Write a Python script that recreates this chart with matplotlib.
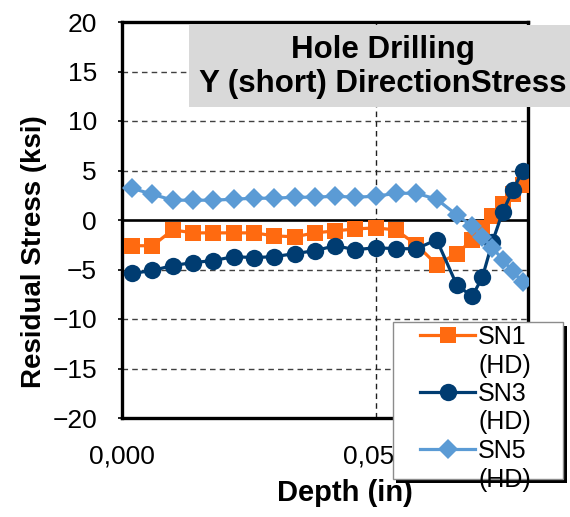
import matplotlib
matplotlib.use("Agg")
import matplotlib.pyplot as plt
from matplotlib.lines import Line2D
from matplotlib.patches import Rectangle

plt.rcParams['font.family'] = ['Liberation Sans', 'DejaVu Sans']

# Depth of each measurement increment (in)
depth = [0.002, 0.006, 0.010, 0.014, 0.018, 0.022, 0.026, 0.030, 0.034, 0.038,
         0.042, 0.046, 0.050, 0.054, 0.058, 0.062, 0.066, 0.069, 0.071, 0.073,
         0.075, 0.077, 0.079]

# Residual stress in the Y (short) direction (ksi)
sn1 = [-2.6, -2.6, -1.0, -1.3, -1.3, -1.3, -1.3, -1.6, -1.7, -1.3,
       -1.1, -0.9, -0.8, -1.0, -2.5, -4.5, -3.4, -2.0, -0.8, 0.4,
       1.6, 2.6, 3.5]
sn3 = [-5.4, -5.1, -4.6, -4.3, -4.1, -3.7, -3.8, -3.7, -3.4, -3.1,
       -2.6, -3.0, -2.8, -2.9, -2.9, -2.0, -6.6, -7.7, -5.8, -2.2,
       0.8, 3.0, 5.0]
sn5 = [3.2, 2.6, 2.0, 2.0, 2.0, 2.1, 2.2, 2.2, 2.3, 2.3,
       2.4, 2.3, 2.4, 2.7, 2.7, 2.1, 0.5, -0.6, -1.7, -2.8,
       -4.0, -5.2, -6.3]

series_names = ["SN1", "SN3", "SN5"]
series_note = "(HD)"
colors = ["#FF6A10", "#003C71", "#5B9BD5"]
markers = ["s", "o", "D"]
msizes = [12, 12.5, 10]

y_ticks = [-20, -15, -10, -5, 0, 5, 10, 15, 20]
x_ticks = [0.0, 0.05]
x_ticklabels = ["0,000", "0,050"]

W, H = 570, 517
fig = plt.figure(figsize=(W / 100, H / 100), dpi=100)
ax = fig.add_axes([122 / W, 99 / H, 406 / W, 396 / H])

for vals, c, m, ms in zip([sn1, sn3, sn5], colors, markers, msizes):
    ax.plot(depth, vals, color=c, marker=m, markersize=ms, linewidth=2.3,
            markeredgewidth=0, zorder=3)

ax.set_xlim(0, 0.08)
ax.set_ylim(-20, 20)
ax.set_yticks(y_ticks)
ax.set_xticks(x_ticks)
ax.set_xticklabels(x_ticklabels)

for v in y_ticks[1:-1]:
    if v != 0:
        ax.axhline(v, color="#404040", linewidth=1.0, linestyle=(0, (4, 3)), zorder=1)
ax.axvline(0.05, color="#202020", linewidth=1.0, linestyle=(0, (4, 3)), zorder=1)
ax.axhline(0, color="black", linewidth=1.9, zorder=2)

for s in ax.spines.values():
    s.set_linewidth(2.4)
    s.set_color("black")

ax.tick_params(axis="y", labelsize=19, length=3, width=1.2, pad=15)
ax.tick_params(axis="x", labelsize=19, length=0, pad=19)

ax.set_ylabel("Residual Stress (ksi)", fontsize=20, fontweight="bold")
ax.yaxis.set_label_coords(-0.185, 0.42)
ax.set_xlabel("Depth (in)", fontsize=21, fontweight="bold")
ax.xaxis.set_label_coords(0.549, -0.155)

# Title banner
fig.patches.append(Rectangle((189 / W, 1 - 107 / H), (W - 189) / W, 82 / H,
                             transform=fig.transFigure, facecolor="#D9D9D9",
                             edgecolor="none", zorder=5))
fig.text(383 / W, 1 - 67 / H, "Hole Drilling\nY (short) DirectionStress",
         ha="center", va="center", fontsize=22.5, fontweight="bold",
         linespacing=1.15, zorder=6)

# Legend frame with shadow
lx0, lx1, ly0, ly1 = 393, 563, 322, 479
fig.patches.append(Rectangle(((lx0 + 3) / W, 1 - (ly1 + 4) / H), (lx1 - lx0 + 1) / W,
                             (ly1 - ly0) / H, transform=fig.transFigure,
                             facecolor="black", edgecolor="none", zorder=7))
fig.patches.append(Rectangle((lx0 / W, 1 - ly1 / H), (lx1 - lx0) / W, (ly1 - ly0) / H,
                             transform=fig.transFigure, facecolor="white",
                             edgecolor="#8C8C8C", linewidth=1.0, zorder=8))

handles, labels = [], []
for name, c, m, ms in zip(series_names, colors, markers, msizes):
    handles.append(Line2D([], [], color=c, marker=m, markersize=ms,
                          linewidth=2.3, markeredgewidth=0))
    labels.append(name)
    handles.append(Line2D([], [], linestyle="none", marker=None))
    labels.append(series_note)

leg = fig.legend(handles, labels, loc="upper left",
                 bbox_to_anchor=(420 / W, 1 - 325 / H),
                 frameon=False, fontsize=18, handlelength=2.2,
                 handletextpad=0.12, labelspacing=0.18, borderpad=0,
                 borderaxespad=0, numpoints=1)
leg.set_zorder(9)

fig.savefig("out.png", dpi=100)
